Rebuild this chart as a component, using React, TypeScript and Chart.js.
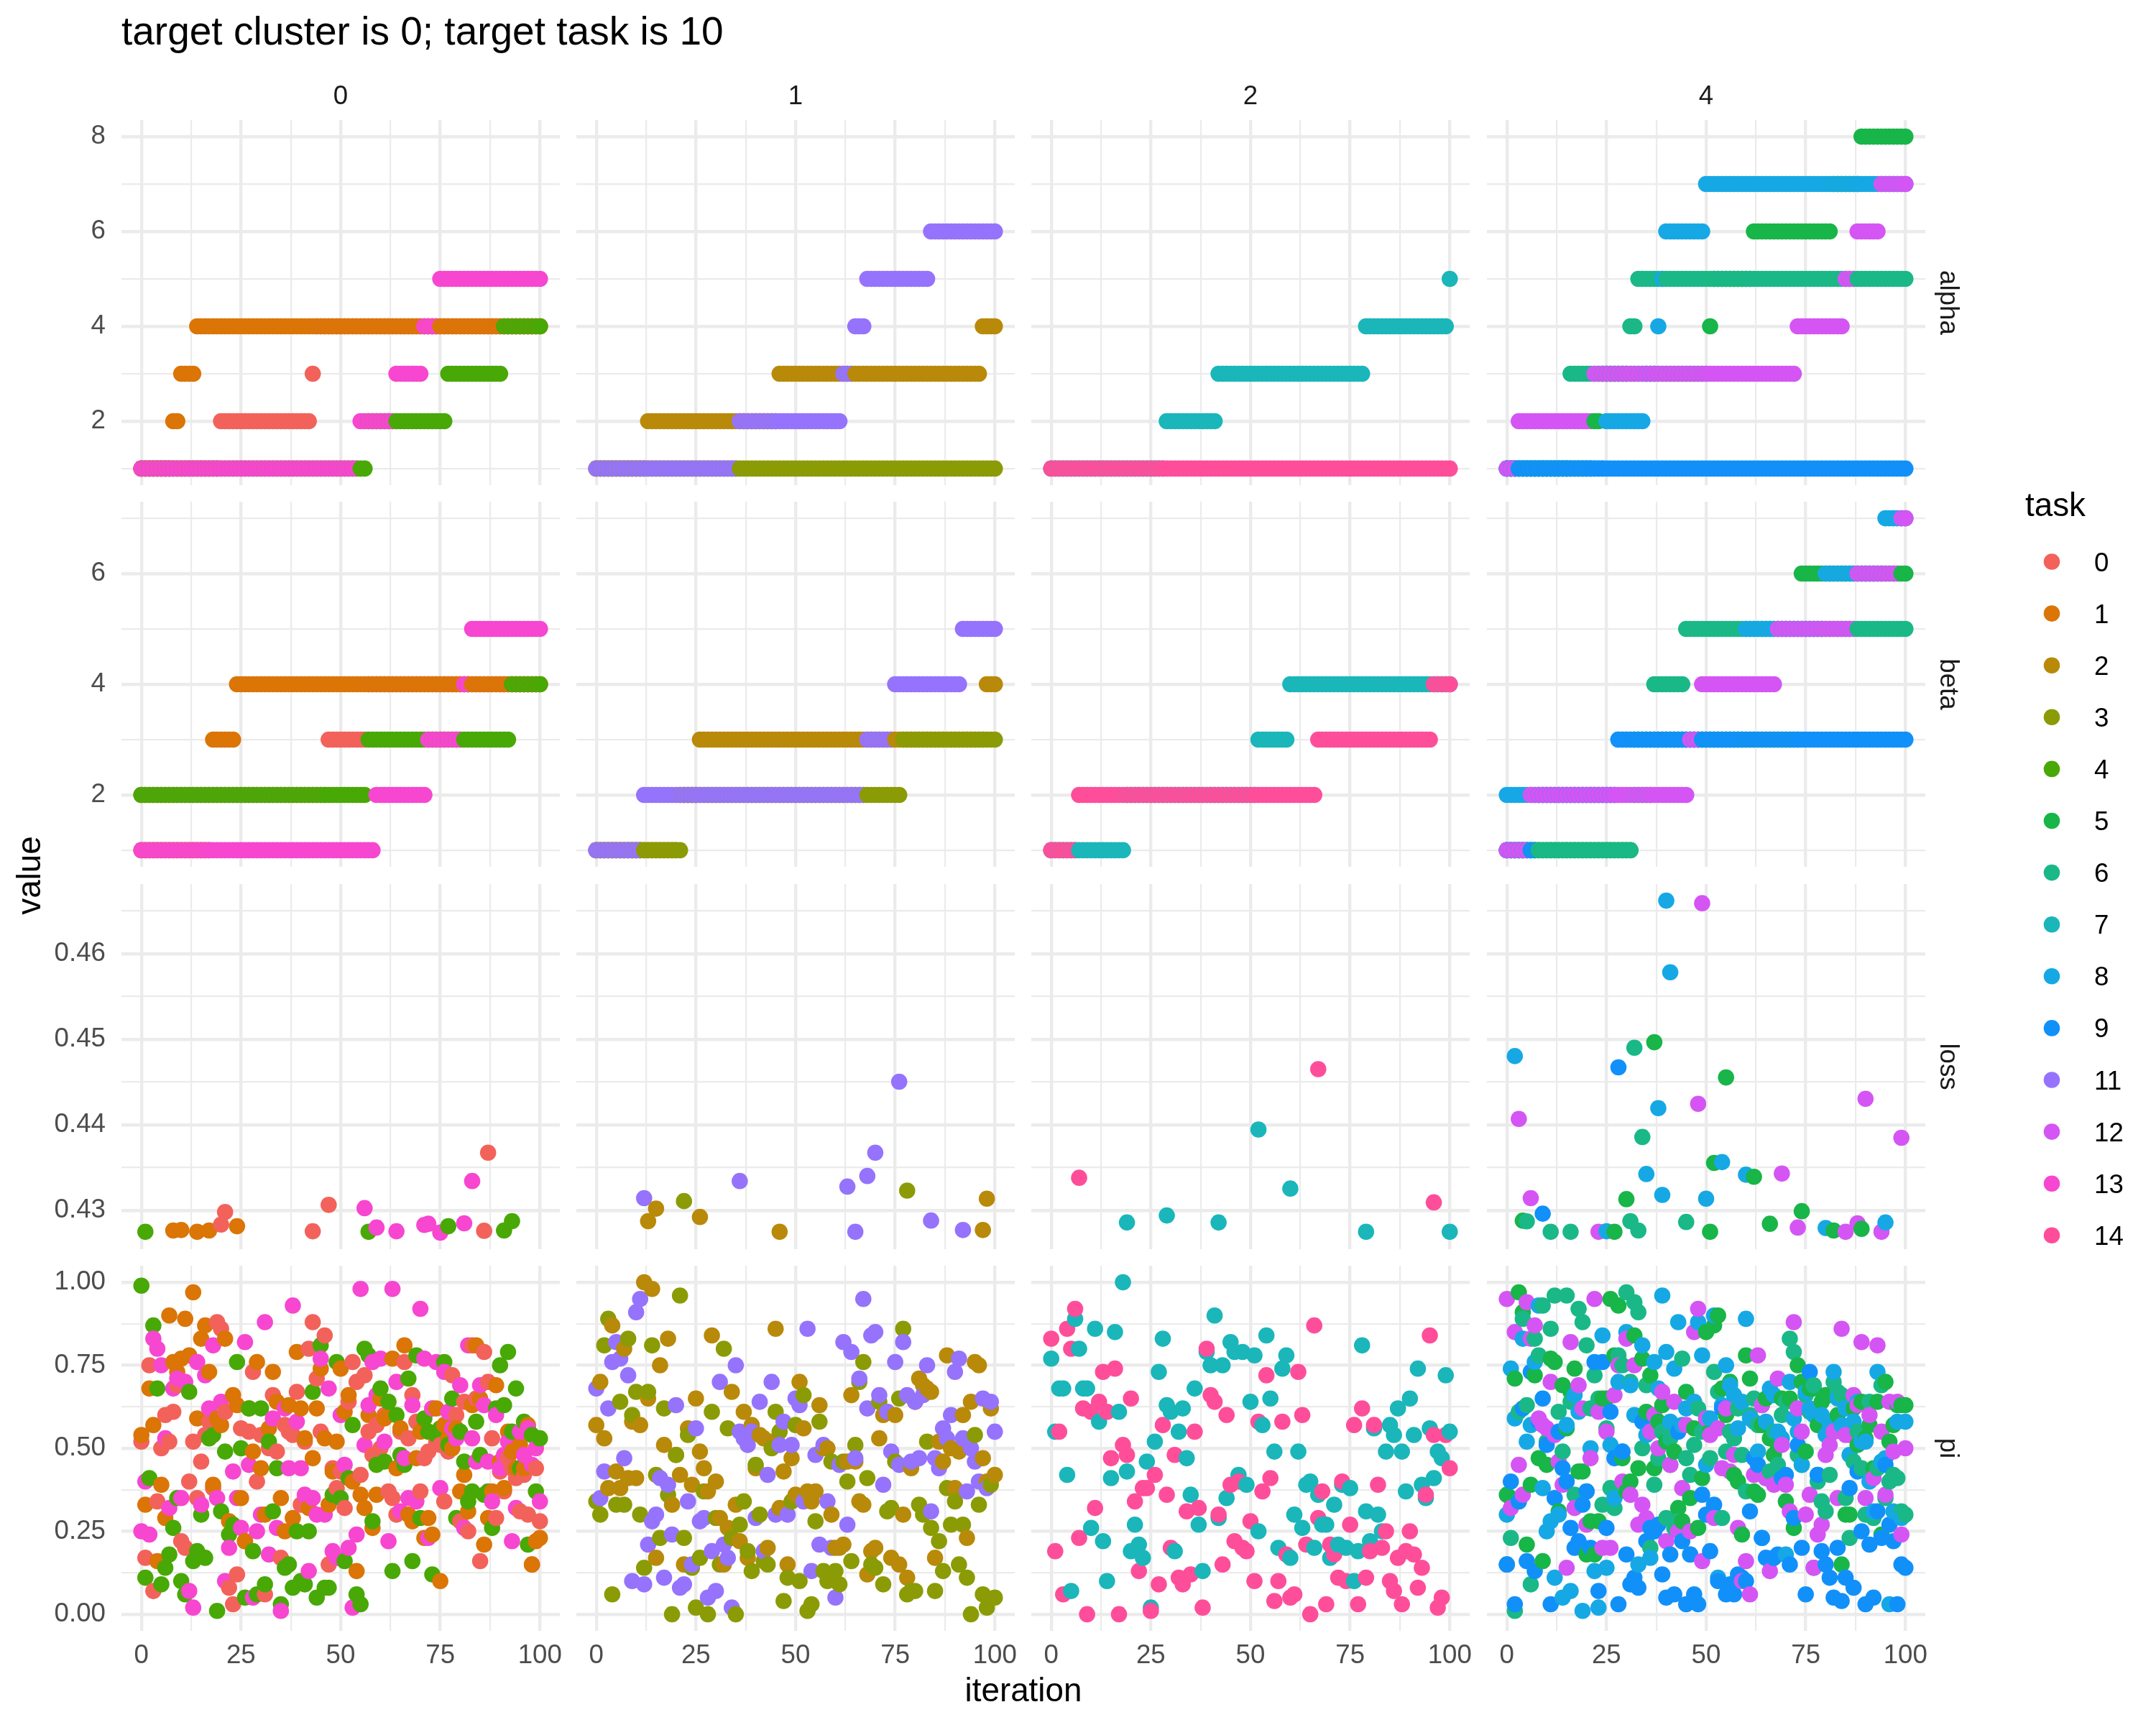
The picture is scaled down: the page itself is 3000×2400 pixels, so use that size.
import React, { useEffect, useRef } from "react";
import { Chart, registerables } from "chart.js";
Chart.register(...registerables);

// ---------------- data ----------------
const TASKS = [0, 1, 2, 3, 4, 5, 6, 7, 8, 9, 11, 12, 13, 14];
const TASK_COLORS = ["#F2625B", "#DA7506", "#B9890A", "#8B9B06", "#48A806", "#18B548", "#1AB887", "#1AB6BA", "#16A8E5", "#1190FA", "#9573FC", "#D455F4", "#F746D0", "#FE4E9A"];
const CLUSTER_LABELS = ["0", "1", "2", "4"];
const CLUSTER_TASKS = [[0, 1, 4, 13], [2, 3, 11], [7, 14], [5, 6, 8, 9, 12]];
const METRICS = ["alpha", "beta", "loss", "pi"];
const TITLE = "target cluster is 0; target task is 10";
const X_TITLE = "iteration";
const Y_TITLE = "value";
const LEGEND_TITLE = "task";

const ITERATIONS_MAX = 100;
const X_TICKS = [0, 12.5, 25, 37.5, 50, 62.5, 75, 87.5, 100];
const X_MAJOR = [0, 25, 50, 75, 100];
const Y_TICKS = [
  [1, 2, 3, 4, 5, 6, 7, 8],
  [1, 2, 3, 4, 5, 6, 7],
  [0.43, 0.435, 0.44, 0.445, 0.45, 0.455, 0.46, 0.465],
  [0, 0.125, 0.25, 0.375, 0.5, 0.625, 0.75, 0.875, 1],
];
const Y_MAJOR = [[2, 4, 6, 8], [2, 4, 6], [0.43, 0.44, 0.45, 0.46], [0, 0.25, 0.5, 0.75, 1]];
const Y_DECIMALS = [0, 0, 2, 2];

// alpha: [iteration where value starts, value] per task (order of TASKS)
const ALPHA_STEPS = [
  [[0, 1], [20, 2], [43, 3], [44, 4]],
  [[0, 1], [8, 2], [10, 3], [14, 4]],
  [[0, 1], [13, 2], [46, 3], [97, 4]],
  [[0, 1]],
  [[0, 1], [57, 2], [77, 3], [91, 4]],
  [[0, 1], [22, 2], [24, 3], [51, 4], [52, 5], [62, 6], [82, 7], [89, 8]],
  [[0, 1], [16, 3], [31, 4], [33, 5]],
  [[0, 1], [29, 2], [42, 3], [79, 4], [100, 5]],
  [[0, 1], [25, 2], [35, 3], [38, 4], [39, 5], [40, 6], [50, 7]],
  [[0, 1]],
  [[0, 1], [36, 2], [62, 3], [65, 4], [68, 5], [84, 6]],
  [[0, 1], [3, 2], [22, 3], [73, 4], [85, 5], [88, 6], [94, 7]],
  [[0, 1], [55, 2], [64, 3], [71, 4], [75, 5]],
  [[0, 1]],
];

const BETA_STEPS = [
  [[0, 2], [47, 3], [57, 4]],
  [[0, 1], [18, 3], [24, 4]],
  [[0, 1], [21, 2], [26, 3], [98, 4]],
  [[0, 1], [22, 2], [77, 3]],
  [[0, 2], [57, 3], [93, 4]],
  [[0, 1], [32, 3], [74, 6]],
  [[0, 1], [32, 2], [37, 4], [45, 5]],
  [[0, 1], [19, 2], [52, 3], [60, 4]],
  [[0, 2], [28, 3], [60, 5], [80, 6], [95, 7]],
  [[0, 1], [8, 2], [28, 3]],
  [[0, 1], [12, 2], [68, 3], [75, 4], [92, 5]],
  [[0, 1], [6, 2], [46, 3], [49, 4], [68, 5], [88, 6], [99, 7]],
  [[0, 1], [59, 2], [72, 3], [81, 4], [83, 5]],
  [[0, 1], [7, 2], [67, 3], [96, 4]],
];

// loss: [iteration, loss] per task
const LOSS_POINTS = [
  [[20, 0.42832], [21, 0.42979], [43, 0.42753], [47, 0.43062], [86, 0.42759], [87, 0.43673]],
  [[8, 0.42762], [10, 0.42768], [14, 0.42747], [17, 0.42762], [24, 0.42812]],
  [[13, 0.42871], [15, 0.43018], [26, 0.42921], [46, 0.42747], [97, 0.42768], [98, 0.43135]],
  [[22, 0.43106], [78, 0.43229]],
  [[1, 0.42747], [57, 0.42747], [77, 0.42812], [91, 0.42762], [93, 0.42871]],
  [[4, 0.42877], [27, 0.42747], [30, 0.43129], [37, 0.44964], [51, 0.42747], [52, 0.43553], [55, 0.44552], [62, 0.43391], [66, 0.42841], [74, 0.42988], [82, 0.42762], [89, 0.42782]],
  [[5, 0.4287], [11, 0.42747], [16, 0.42747], [31, 0.42871], [32, 0.449], [33, 0.42762], [34, 0.43856], [45, 0.42862]],
  [[19, 0.42856], [29, 0.42938], [42, 0.42856], [52, 0.43944], [60, 0.43253], [79, 0.42747], [100, 0.42747]],
  [[2, 0.44802], [25, 0.42753], [35, 0.43423], [38, 0.44194], [39, 0.43179], [40, 0.4662], [41, 0.45782], [50, 0.43135], [54, 0.43562], [60, 0.43415], [80, 0.42791], [95, 0.42856]],
  [[9, 0.42959], [28, 0.4467]],
  [[12, 0.43141], [36, 0.43341], [63, 0.43276], [65, 0.42747], [68, 0.434], [70, 0.43673], [76, 0.44503], [84, 0.42879], [92, 0.42768]],
  [[3, 0.44067], [6, 0.43141], [23, 0.42747], [48, 0.44244], [49, 0.4659], [69, 0.43429], [73, 0.42797], [85, 0.42747], [88, 0.42847], [90, 0.44303], [94, 0.42747], [99, 0.43847]],
  [[56, 0.43024], [59, 0.42797], [64, 0.42753], [71, 0.42827], [72, 0.42841], [75, 0.42738], [81, 0.42847], [83, 0.43341]],
  [[7, 0.43379], [67, 0.4465], [96, 0.43091]],
];

// pi: value at iterations 0..100 per task
const PI_T0 = [0.52,0.17,0.75,0.07,0.34,0.50,0.60,0.52,0.61,0.69,0.22,0.20,0.40,0.52,0.35,0.46,0.54,0.58,0.38,0.88,0.86,0.61,0.08,0.03,0.12,0.56,0.22,0.55,0.73,0.40,0.54,0.06,0.50,0.66,0.49,0.17,0.57,0.55,0.54,0.67,0.33,0.52,0.80,0.88,0.71,0.55,0.84,0.15,0.44,0.38,0.43,0.32,0.64,0.76,0.70,0.42,0.72,0.55,0.48,0.57,0.50,0.60,0.37,0.35,0.30,0.55,0.76,0.53,0.66,0.58,0.37,0.47,0.49,0.62,0.52,0.51,0.34,0.49,0.72,0.60,0.28,0.64,0.25,0.81,0.65,0.16,0.79,0.70,0.53,0.29,0.43,0.37,0.47,0.44,0.41,0.31,0.42,0.30,0.15,0.44,0.28];
const PI_T1 = [0.54,0.33,0.68,0.57,0.16,0.39,0.29,0.90,0.76,0.73,0.77,0.89,0.78,0.97,0.59,0.83,0.87,0.73,0.39,0.59,0.57,0.83,0.28,0.66,0.63,0.35,0.22,0.62,0.49,0.76,0.44,0.30,0.56,0.73,0.64,0.35,0.25,0.63,0.29,0.79,0.62,0.53,0.32,0.47,0.62,0.74,0.53,0.33,0.43,0.52,0.74,0.61,0.66,0.40,0.13,0.36,0.32,0.60,0.26,0.36,0.65,0.59,0.60,0.77,0.44,0.56,0.81,0.30,0.28,0.47,0.55,0.23,0.29,0.24,0.62,0.10,0.57,0.53,0.50,0.56,0.37,0.42,0.31,0.63,0.81,0.65,0.21,0.29,0.37,0.69,0.46,0.38,0.55,0.49,0.44,0.51,0.44,0.57,0.15,0.22,0.23];
const PI_T2 = [0.57,0.70,0.53,0.38,0.87,0.43,0.38,0.80,0.41,0.58,0.41,0.57,1.00,0.65,0.98,0.17,0.75,0.51,0.83,0.33,0.48,0.42,0.15,0.56,0.39,0.65,0.49,0.44,0.37,0.84,0.40,0.29,0.15,0.26,0.67,0.33,0.22,0.61,0.17,0.57,0.44,0.54,0.53,0.20,0.52,0.86,0.32,0.43,0.15,0.47,0.36,0.70,0.56,0.37,0.34,0.37,0.63,0.50,0.50,0.30,0.20,0.20,0.21,0.46,0.66,0.46,0.34,0.33,0.12,0.19,0.20,0.53,0.60,0.61,0.17,0.60,0.15,0.30,0.11,0.44,0.64,0.71,0.69,0.68,0.67,0.17,0.52,0.46,0.78,0.50,0.38,0.49,0.60,0.23,0.64,0.76,0.75,0.47,0.40,0.62,0.42];
const PI_T3 = [0.34,0.30,0.81,0.89,0.06,0.33,0.64,0.33,0.83,0.60,0.67,0.30,0.14,0.67,0.81,0.42,0.23,0.62,0.36,0.00,0.48,0.96,0.23,0.54,0.14,0.02,0.17,0.37,0.00,0.61,0.29,0.15,0.80,0.56,0.23,0.00,0.27,0.34,0.19,0.13,0.45,0.30,0.16,0.15,0.50,0.61,0.55,0.04,0.11,0.34,0.57,0.10,0.66,0.01,0.03,0.28,0.58,0.13,0.10,0.46,0.13,0.09,0.46,0.40,0.16,0.51,0.70,0.76,0.41,0.15,0.14,0.64,0.09,0.31,0.32,0.46,0.65,0.86,0.06,0.07,0.07,0.33,0.30,0.52,0.26,0.07,0.22,0.13,0.38,0.27,0.34,0.15,0.27,0.11,0.00,0.54,0.33,0.06,0.02,0.39,0.05];
const PI_T4 = [0.99,0.11,0.41,0.87,0.68,0.09,0.14,0.18,0.26,0.35,0.10,0.06,0.67,0.16,0.19,0.30,0.17,0.53,0.54,0.01,0.31,0.49,0.24,0.27,0.76,0.50,0.05,0.62,0.19,0.06,0.62,0.09,0.52,0.31,0.44,0.03,0.14,0.15,0.08,0.25,0.10,0.09,0.25,0.67,0.05,0.81,0.08,0.08,0.36,0.76,0.35,0.16,0.41,0.57,0.06,0.03,0.80,0.78,0.28,0.45,0.68,0.46,0.64,0.13,0.60,0.48,0.45,0.71,0.16,0.78,0.29,0.59,0.55,0.12,0.54,0.56,0.76,0.51,0.65,0.29,0.55,0.46,0.34,0.37,0.58,0.48,0.36,0.37,0.26,0.62,0.75,0.63,0.79,0.55,0.68,0.44,0.58,0.21,0.54,0.37,0.53];
const PI_T5 = [0.36,0.35,0.71,0.97,0.91,0.21,0.39,0.72,0.47,0.16,0.45,0.77,0.76,0.31,0.69,0.56,0.67,0.74,0.43,0.43,0.18,0.28,0.18,0.28,0.65,0.65,0.95,0.78,0.93,0.47,0.37,0.40,0.84,0.44,0.77,0.61,0.72,0.44,0.58,0.63,0.52,0.45,0.49,0.32,0.28,0.67,0.35,0.56,0.26,0.41,0.85,0.55,0.87,0.90,0.68,0.60,0.70,0.42,0.40,0.24,0.78,0.71,0.37,0.36,0.57,0.65,0.53,0.48,0.51,0.65,0.34,0.65,0.26,0.75,0.70,0.49,0.68,0.68,0.57,0.64,0.66,0.66,0.55,0.60,0.15,0.30,0.30,0.62,0.51,0.64,0.53,0.57,0.44,0.64,0.24,0.70,0.52,0.57,0.63,0.63,0.63];
const PI_T6 = [0.15,0.23,0.01,0.61,0.89,0.63,0.09,0.83,0.78,0.93,0.52,0.86,0.96,0.61,0.49,0.96,0.64,0.36,0.92,0.88,0.81,0.62,0.72,0.65,0.33,0.56,0.38,0.32,0.78,0.75,0.97,0.70,0.94,0.91,0.50,0.69,0.20,0.39,0.47,0.55,0.29,0.53,0.26,0.28,0.77,0.47,0.42,0.51,0.62,0.55,0.59,0.47,0.73,0.67,0.29,0.49,0.55,0.53,0.62,0.48,0.37,0.60,0.65,0.57,0.63,0.41,0.43,0.55,0.45,0.60,0.64,0.83,0.79,0.48,0.45,0.66,0.61,0.69,0.40,0.34,0.31,0.42,0.70,0.67,0.66,0.35,0.23,0.46,0.55,0.44,0.30,0.64,0.29,0.44,0.69,0.35,0.40,0.42,0.41,0.31,0.30];
const PI_T7 = [0.77,0.55,0.68,0.68,0.42,0.07,0.89,0.80,0.68,0.68,0.26,0.86,0.58,0.22,0.10,0.41,0.85,0.61,1.00,0.43,0.19,0.27,0.21,0.17,0.46,0.02,0.52,0.73,0.83,0.63,0.61,0.19,0.55,0.62,0.47,0.36,0.68,0.27,0.13,0.79,0.75,0.90,0.29,0.75,0.35,0.82,0.79,0.42,0.79,0.39,0.64,0.78,0.25,0.57,0.84,0.65,0.49,0.20,0.74,0.78,0.17,0.30,0.49,0.26,0.39,0.40,0.20,0.36,0.27,0.27,0.17,0.33,0.21,0.39,0.20,0.38,0.10,0.19,0.81,0.31,0.22,0.56,0.30,0.25,0.49,0.57,0.54,0.62,0.49,0.37,0.65,0.54,0.74,0.39,0.35,0.56,0.41,0.49,0.47,0.72,0.55];
const PI_T8 = [0.30,0.74,0.59,0.34,0.83,0.52,0.57,0.76,0.93,0.38,0.25,0.28,0.11,0.30,0.05,0.57,0.07,0.66,0.61,0.01,0.37,0.50,0.13,0.02,0.84,0.14,0.51,0.35,0.70,0.49,0.85,0.69,0.60,0.15,0.81,0.54,0.17,0.76,0.68,0.96,0.79,0.58,0.74,0.88,0.57,0.62,0.18,0.64,0.88,0.78,0.45,0.59,0.90,0.11,0.63,0.75,0.69,0.66,0.56,0.64,0.89,0.59,0.58,0.49,0.23,0.58,0.68,0.66,0.55,0.53,0.18,0.70,0.59,0.55,0.45,0.67,0.62,0.60,0.42,0.60,0.54,0.57,0.73,0.65,0.57,0.62,0.48,0.58,0.64,0.52,0.52,0.40,0.31,0.73,0.46,0.47,0.03,0.31,0.58,0.29,0.58];
const PI_T9 = [0.15,0.40,0.03,0.34,0.62,0.16,0.73,0.13,0.58,0.65,0.51,0.03,0.35,0.55,0.44,0.40,0.26,0.20,0.22,0.33,0.37,0.20,0.76,0.07,0.76,0.26,0.61,0.47,0.03,0.49,0.18,0.09,0.11,0.08,0.58,0.22,0.26,0.25,0.27,0.12,0.05,0.18,0.06,0.55,0.22,0.03,0.18,0.06,0.03,0.36,0.30,0.19,0.33,0.10,0.62,0.06,0.09,0.06,0.12,0.11,0.10,0.31,0.47,0.45,0.23,0.17,0.16,0.17,0.18,0.41,0.42,0.15,0.29,0.51,0.20,0.06,0.73,0.14,0.42,0.19,0.15,0.11,0.05,0.20,0.04,0.11,0.38,0.08,0.43,0.25,0.03,0.21,0.05,0.31,0.23,0.45,0.27,0.22,0.03,0.15,0.14];
const PI_T11 = [0.68,0.35,0.43,0.62,0.76,0.82,0.77,0.47,0.72,0.10,0.91,0.95,0.09,0.21,0.28,0.30,0.41,0.11,0.39,0.24,0.63,0.08,0.09,0.34,0.15,0.56,0.28,0.29,0.05,0.19,0.07,0.70,0.21,0.17,0.02,0.75,0.55,0.53,0.51,0.55,0.29,0.64,0.19,0.42,0.70,0.30,0.51,0.58,0.30,0.51,0.65,0.63,0.34,0.86,0.13,0.48,0.21,0.51,0.34,0.20,0.05,0.45,0.82,0.27,0.79,0.47,0.71,0.95,0.62,0.84,0.85,0.66,0.39,0.61,0.49,0.76,0.45,0.82,0.66,0.46,0.64,0.47,0.66,0.75,0.31,0.47,0.44,0.56,0.53,0.60,0.73,0.77,0.53,0.37,0.50,0.46,0.40,0.65,0.38,0.64,0.55];
const PI_T12 = [0.95,0.32,0.85,0.45,0.36,0.94,0.83,0.87,0.59,0.57,0.56,0.70,0.54,0.46,0.39,0.14,0.82,0.32,0.69,0.62,0.27,0.47,0.95,0.61,0.20,0.55,0.20,0.66,0.75,0.40,0.83,0.36,0.75,0.27,0.33,0.29,0.55,0.60,0.50,0.67,0.22,0.45,0.64,0.25,0.38,0.57,0.25,0.85,0.92,0.16,0.59,0.54,0.29,0.56,0.44,0.62,0.43,0.48,0.26,0.10,0.16,0.06,0.42,0.78,0.63,0.41,0.13,0.39,0.71,0.51,0.39,0.31,0.88,0.62,0.55,0.30,0.36,0.14,0.24,0.27,0.48,0.51,0.55,0.35,0.86,0.54,0.54,0.66,0.63,0.82,0.35,0.60,0.41,0.81,0.55,0.36,0.64,0.49,0.64,0.24,0.50];
const PI_T13 = [0.25,0.40,0.24,0.83,0.80,0.75,0.53,0.32,0.68,0.71,0.35,0.70,0.07,0.02,0.76,0.33,0.72,0.62,0.81,0.35,0.64,0.10,0.20,0.43,0.35,0.26,0.82,0.45,0.05,0.25,0.30,0.88,0.18,0.59,0.26,0.01,0.62,0.44,0.93,0.58,0.44,0.36,0.13,0.35,0.30,0.77,0.30,0.68,0.19,0.17,0.60,0.45,0.20,0.02,0.24,0.98,0.51,0.63,0.76,0.66,0.77,0.52,0.22,0.98,0.70,0.31,0.47,0.35,0.63,0.34,0.92,0.77,0.23,0.62,0.76,0.38,0.73,0.61,0.56,0.53,0.69,0.26,0.81,0.53,0.46,0.69,0.63,0.46,0.34,0.60,0.44,0.48,0.52,0.22,0.32,0.55,0.48,0.56,0.45,0.50,0.34];
const PI_T14 = [0.83,0.19,0.55,0.06,0.86,0.80,0.92,0.23,0.62,0.00,0.61,0.32,0.64,0.73,0.61,0.47,0.74,0.00,0.51,0.48,0.65,0.34,0.13,0.38,0.38,0.01,0.42,0.09,0.57,0.36,0.20,0.48,0.11,0.09,0.31,0.12,0.55,0.32,0.02,0.80,0.66,0.64,0.30,0.15,0.60,0.39,0.22,0.40,0.20,0.19,0.28,0.10,0.58,0.37,0.72,0.41,0.04,0.10,0.58,0.18,0.05,0.06,0.73,0.60,0.21,0.00,0.87,0.29,0.37,0.03,0.21,0.18,0.11,0.40,0.10,0.27,0.57,0.03,0.62,0.11,0.19,0.57,0.39,0.20,0.25,0.10,0.07,0.17,0.03,0.19,0.25,0.18,0.08,0.14,0.36,0.84,0.54,0.02,0.05,0.54,0.44];
const PI_SERIES = [PI_T0, PI_T1, PI_T2, PI_T3, PI_T4, PI_T5, PI_T6, PI_T7, PI_T8, PI_T9, PI_T11, PI_T12, PI_T13, PI_T14];

// ---------------- layout / style ----------------
const FONT = "'Liberation Sans', Arial, Helvetica, sans-serif";
const PANEL_LEFT = [169, 802, 1435, 2069];
const PANEL_TOP = [167, 698, 1230, 1761];
const PANEL_W = 610;
const PANEL_H = 508;
const Y_AXIS_W = 169;
const X_AXIS_H = 110;
const RIGHT_PAD = 24;
const GRID = "#EBEBEB";
const POINT_R = 11.3;

function stepSeries(steps: number[][]): number[] {
  const out: number[] = [];
  for (let it = 0; it <= ITERATIONS_MAX; it++) {
    let v = steps[0][1];
    for (const s of steps) if (it >= s[0]) v = s[1];
    out.push(v);
  }
  return out;
}

function panelData(metric: number, cluster: number) {
  const tasks = CLUSTER_TASKS[cluster];
  const pts: { x: number; y: number }[] = [];
  const cols: string[] = [];
  if (metric === 2) {
    const all: [number, number, number][] = [];
    tasks.forEach((t) => {
      const ti = TASKS.indexOf(t);
      LOSS_POINTS[ti].forEach((p) => all.push([p[0], p[1], ti]));
    });
    all.sort((a, b) => a[0] - b[0] || a[2] - b[2]);
    all.forEach((a) => { pts.push({ x: a[0], y: a[1] }); cols.push(TASK_COLORS[a[2]]); });
  } else {
    const series = tasks.map((t) => {
      const ti = TASKS.indexOf(t);
      if (metric === 0) return stepSeries(ALPHA_STEPS[ti]);
      if (metric === 1) return stepSeries(BETA_STEPS[ti]);
      return PI_SERIES[ti];
    });
    for (let it = 0; it <= ITERATIONS_MAX; it++) {
      tasks.forEach((t, k) => {
        pts.push({ x: it, y: series[k][it] });
        cols.push(TASK_COLORS[TASKS.indexOf(t)]);
      });
    }
  }
  return { pts, cols };
}

function rowRange(metric: number): [number, number] {
  let lo = Infinity, hi = -Infinity;
  for (let c = 0; c < CLUSTER_TASKS.length; c++) {
    panelData(metric, c).pts.forEach((p) => { lo = Math.min(lo, p.y); hi = Math.max(hi, p.y); });
  }
  const pad = (hi - lo) * 0.05;
  return [lo - pad, hi + pad];
}

const near = (a: number, list: number[]) => list.some((v) => Math.abs(v - a) < 1e-9);

export default function App() {
  const refs = useRef<(HTMLCanvasElement | null)[]>([]);

  useEffect(() => {
    const charts: Chart[] = [];
    const ranges = METRICS.map((_, r) => rowRange(r));
    for (let r = 0; r < 4; r++) {
      for (let c = 0; c < 4; c++) {
        const cv = refs.current[r * 4 + c];
        if (!cv) continue;
        const isLeft = c === 0;
        const isBottom = r === 3;
        const { pts, cols } = panelData(r, c);
        const tickFont = { family: FONT, size: 36.7 };
        const chart = new Chart(cv, {
          type: "scatter",
          data: {
            datasets: [{
              data: pts,
              pointBackgroundColor: cols,
              pointBorderWidth: 0,
              pointRadius: POINT_R,
              pointHoverRadius: POINT_R,
            }],
          },
          options: {
            animation: false,
            responsive: false,
            devicePixelRatio: 1,
            events: [],
            layout: { autoPadding: false, padding: { left: 0, right: isBottom ? RIGHT_PAD : 0, top: 0, bottom: 0 } },
            plugins: { legend: { display: false }, tooltip: { enabled: false } },
            scales: {
              x: {
                type: "linear",
                min: -5,
                max: 105,
                afterBuildTicks: (s: any) => { s.ticks = X_TICKS.map((v) => ({ value: v })); },
                afterFit: (s: any) => { s.height = isBottom ? X_AXIS_H : 0; s.paddingLeft = 0; s.paddingRight = 0; },
                ticks: {
                  display: isBottom,
                  autoSkip: false,
                  maxRotation: 0,
                  minRotation: 0,
                  padding: 13,
                  color: "#4D4D4D",
                  font: tickFont,
                  callback: (v: any) => (near(Number(v), X_MAJOR) ? String(v) : ""),
                },
                grid: {
                  color: GRID,
                  drawTicks: false,
                  lineWidth: (ctx: any) => (ctx.tick && near(ctx.tick.value, X_MAJOR) ? 4.4 : 2.2),
                },
                border: { display: false },
              },
              y: {
                type: "linear",
                min: ranges[r][0],
                max: ranges[r][1],
                afterBuildTicks: (s: any) => { s.ticks = Y_TICKS[r].map((v) => ({ value: v })); },
                afterFit: (s: any) => { s.width = isLeft ? Y_AXIS_W : 0; s.paddingTop = 0; s.paddingBottom = 0; },
                ticks: {
                  display: isLeft,
                  autoSkip: false,
                  padding: 22,
                  color: "#4D4D4D",
                  font: tickFont,
                  callback: (v: any) => (near(Number(v), Y_MAJOR[r]) ? Number(v).toFixed(Y_DECIMALS[r]) : ""),
                },
                grid: {
                  color: GRID,
                  drawTicks: false,
                  lineWidth: (ctx: any) => (ctx.tick && near(ctx.tick.value, Y_MAJOR[r]) ? 4.4 : 2.2),
                },
                border: { display: false },
              },
            },
          } as any,
        });
        charts.push(chart);
      }
    }
    return () => charts.forEach((ch) => ch.destroy());
  }, []);

  const canvases: React.ReactNode[] = [];
  for (let r = 0; r < 4; r++) {
    for (let c = 0; c < 4; c++) {
      const isLeft = c === 0;
      const isBottom = r === 3;
      const left = PANEL_LEFT[c] - (isLeft ? Y_AXIS_W : 0);
      const w = PANEL_W + (isLeft ? Y_AXIS_W : 0) + (isBottom ? RIGHT_PAD : 0);
      const h = PANEL_H + (isBottom ? X_AXIS_H : 0);
      canvases.push(
        <canvas
          key={`p${r}-${c}`}
          ref={(el) => { refs.current[r * 4 + c] = el; }}
          width={w}
          height={h}
          style={{ position: "absolute", left, top: PANEL_TOP[r], width: w, height: h }}
        />
      );
    }
  }

  const legendY0 = 781.5;
  const legendStep = 72.1;

  return (
    <div style={{ position: "absolute", left: 0, top: 0, width: 3000, height: 2400, background: "#ffffff", overflow: "hidden" }}>
      {canvases}
      <svg width={3000} height={2400} style={{ position: "absolute", left: 0, top: 0, pointerEvents: "none" }} fontFamily={FONT}>
        <text x={169} y={62} fontSize={55} fill="#000000">{TITLE}</text>
        {CLUSTER_LABELS.map((lab, c) => (
          <text key={`s${c}`} x={PANEL_LEFT[c] + PANEL_W / 2} y={145} fontSize={36.7} fill="#1A1A1A" textAnchor="middle">{lab}</text>
        ))}
        {METRICS.map((m, r) => (
          <text key={`m${r}`} transform={`translate(2700 ${PANEL_TOP[r] + PANEL_H / 2}) rotate(90)`} fontSize={36.7} fill="#1A1A1A" textAnchor="middle">{m}</text>
        ))}
        <text transform={`translate(56 1218) rotate(-90)`} fontSize={45.8} fill="#000000" textAnchor="middle">{Y_TITLE}</text>
        <text x={(PANEL_LEFT[0] + PANEL_LEFT[3] + PANEL_W) / 2} y={2367} fontSize={45.8} fill="#000000" textAnchor="middle">{X_TITLE}</text>
        <text x={2818} y={718} fontSize={45.8} fill="#000000">{LEGEND_TITLE}</text>
        {TASKS.map((t, i) => (
          <g key={`l${t}`}>
            <circle cx={2855} cy={legendY0 + i * legendStep} r={POINT_R} fill={TASK_COLORS[i]} />
            <text x={2914} y={legendY0 + i * legendStep + 13} fontSize={36.7} fill="#000000">{String(t)}</text>
          </g>
        ))}
      </svg>
    </div>
  );
}
